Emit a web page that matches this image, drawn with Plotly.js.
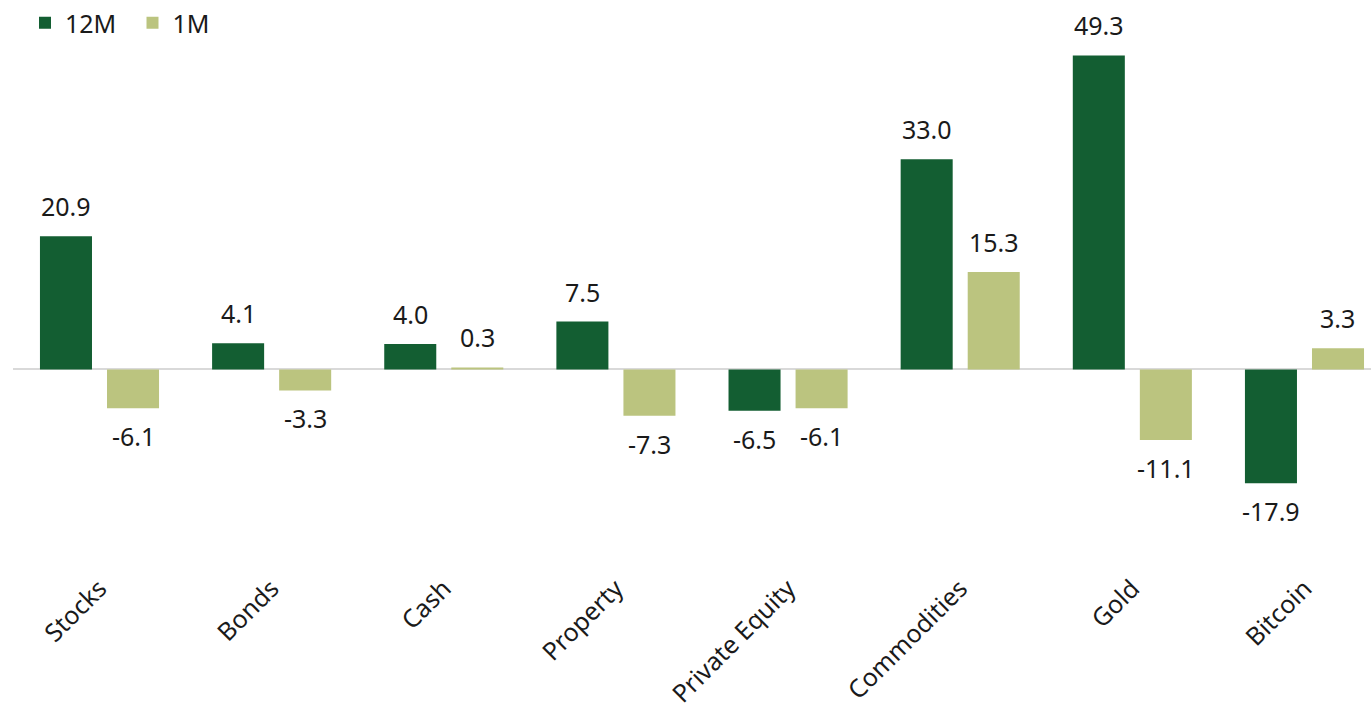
<!DOCTYPE html>
<html>
<head>
<meta charset="utf-8">
<script src="https://cdn.plot.ly/plotly-3.0.1.min.js"></script>
<style>html,body{margin:0;padding:0;background:#fff;}#chart{width:1371px;height:709px;}</style>
</head>
<body>
<div id="chart"></div>
<script>
const categories = ["Stocks", "Bonds", "Cash", "Property", "Private Equity", "Commodities", "Gold", "Bitcoin"];
const seriesNames = ["12M", "1M"];
const values12M = [20.9, 4.1, 4.0, 7.5, -6.5, 33.0, 49.3, -17.9];
const values1M = [-6.1, -3.3, 0.3, -7.3, -6.1, 15.3, -11.1, 3.3];
const colors = ["#135E32", "#BBC47F"];

const FONT = "'Noto Sans', sans-serif";
const FS = 25;
const W = 1371, H = 709;
const mL = 13, mR = 0, mT = 40, mB = 709 - 568;
const plotH = H - mT - mB;
const zeroPx = 369;
const pxPerUnit = 6.38;
const yMax = (zeroPx - mT) / pxPerUnit;
const yMin = -(mT + plotH - zeroPx) / pxPerUnit;
const plotW = W - mL - mR;
const catPx = 172.14;
const xMin = -0.5 - (99.5 - mL - catPx / 2) / catPx;
const xMax = xMin + plotW / catPx;
const barOffset = 33.5;

const traces = [values12M, values1M].map((vals, i) => ({
  type: "bar",
  name: seriesNames[i],
  x: categories,
  y: vals,
  marker: {color: colors[i], line: {width: 0}},
  hoverinfo: "none"
}));

const annotations = [];
[values12M, values1M].forEach((vals, i) => {
  vals.forEach((v, j) => {
    annotations.push({
      x: categories[j], y: v, xref: "x", yref: "y",
      xshift: i === 0 ? -barOffset : barOffset,
      yshift: v >= 0 ? 11 : -9,
      yanchor: v >= 0 ? "bottom" : "top",
      text: v.toFixed(1),
      showarrow: false,
      font: {family: FONT, size: FS, color: "#1a1a1a"}
    });
  });
});

const layout = {
  width: W, height: H,
  margin: {l: mL, r: mR, t: mT, b: mB, pad: 0},
  paper_bgcolor: "#ffffff",
  plot_bgcolor: "#ffffff",
  barmode: "group",
  bargap: 0.221,
  bargroupgap: 0.224,
  showlegend: true,
  legend: {
    orientation: "h",
    x: (25 - mL) / plotW, xanchor: "left",
    y: (mT + plotH - 22) / plotH, yanchor: "middle",
    entrywidth: 62.5, entrywidthmode: "pixels",
    font: {family: FONT, size: FS, color: "#1a1a1a"},
    bgcolor: "rgba(0,0,0,0)"
  },
  xaxis: {
    type: "category",
    range: [xMin, xMax],
    tickangle: -45,
    showgrid: false, showline: false, zeroline: false,
    ticks: "",
    tickfont: {family: FONT, size: FS, color: "#1a1a1a"},
    fixedrange: true
  },
  yaxis: {
    range: [yMin, yMax],
    showgrid: false, showline: false,
    showticklabels: false, ticks: "",
    zeroline: true, zerolinecolor: "#D9D9D9", zerolinewidth: 2,
    fixedrange: true
  },
  annotations: annotations
};

Plotly.newPlot("chart", traces, layout, {displayModeBar: false, staticPlot: true});
</script>
</body>
</html>
